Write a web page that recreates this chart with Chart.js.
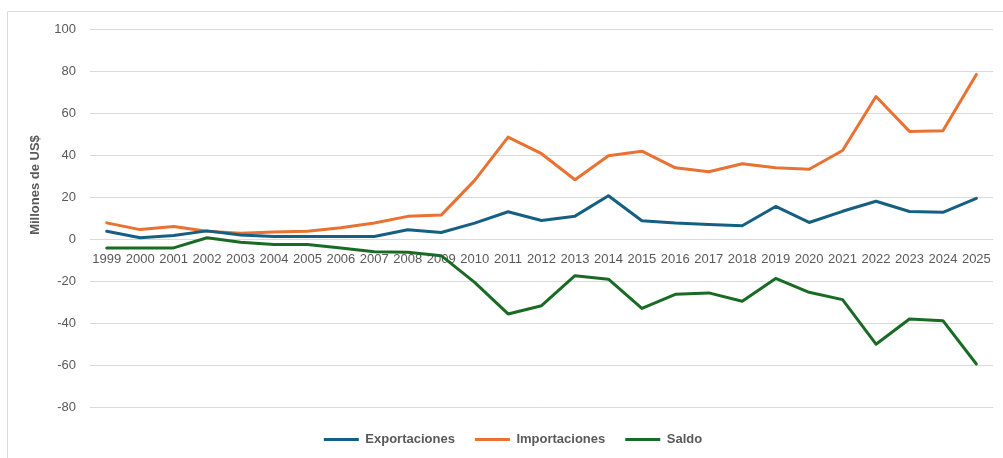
<!DOCTYPE html>
<html>
<head>
<meta charset="utf-8">
<script src="https://cdn.jsdelivr.net/npm/chart.js@4.4.1/dist/chart.umd.min.js"></script>
<style>
  html, body { margin: 0; padding: 0; background: #ffffff; }
  #wrap { position: relative; width: 1003px; height: 458px; }
</style>
</head>
<body>
<div id="wrap"><canvas id="c" width="1003" height="458"></canvas></div>
<script>
const years = ['1999','2000','2001','2002','2003','2004','2005','2006','2007','2008','2009','2010','2011','2012','2013','2014','2015','2016','2017','2018','2019','2020','2021','2022','2023','2024','2025'];
const exportaciones = [3.8,0.7,1.8,4.0,2.0,1.3,1.3,1.3,1.3,4.5,3.2,7.7,13.1,8.9,11.0,20.7,8.8,7.7,7.0,6.4,15.6,8.0,13.3,18.1,13.2,12.8,19.5];
const importaciones = [7.8,4.6,6.1,3.8,2.9,3.5,3.8,5.5,7.7,10.9,11.5,28.0,48.6,40.7,28.3,39.7,41.9,34.0,32.1,35.9,34.0,33.3,42.2,67.9,51.3,51.6,78.4];
const saldo = [-4.1,-4.1,-4.1,0.7,-1.4,-2.5,-2.5,-4.1,-5.9,-6.2,-7.8,-20.5,-35.5,-31.6,-17.3,-19.0,-32.9,-26.2,-25.5,-29.5,-18.6,-25.2,-28.7,-49.9,-37.9,-38.7,-59.3];
const yMin = -80, yMax = 100, yStep = 20;
const axisTitle = 'Millones de US$';

const textColor = '#595959';
const gridColor = '#d9d9d9';

const frame = {
  id: 'frame',
  afterLayout(chart) {
    if (chart.legend) { chart.legend.left += 15; chart.legend.right += 15; }
  },
  beforeDraw(chart) {
    const ctx = chart.ctx;
    ctx.save();
    ctx.strokeStyle = gridColor;
    ctx.lineWidth = 1;
    ctx.beginPath();
    ctx.moveTo(7.5, 470);
    ctx.lineTo(7.5, 11.5);
    ctx.lineTo(1010, 11.5);
    ctx.stroke();
    ctx.restore();
  },
  afterDraw(chart) {
    const ctx = chart.ctx;
    ctx.save();
    ctx.fillStyle = textColor;
    ctx.font = 'bold 13px "Liberation Sans", Arial, sans-serif';
    ctx.textAlign = 'center';
    ctx.textBaseline = 'middle';
    ctx.translate(35.5, 185);
    ctx.rotate(-Math.PI / 2);
    ctx.fillText(axisTitle, 0, 0);
    ctx.restore();
  }
};

const lineDs = (label, data, color) => ({
  label, data,
  borderColor: color, backgroundColor: color,
  borderWidth: 3, pointRadius: 0, pointHoverRadius: 0,
  tension: 0, borderCapStyle: 'round', borderJoinStyle: 'round'
});

new Chart(document.getElementById('c'), {
  type: 'line',
  data: {
    labels: years,
    datasets: [
      lineDs('Exportaciones', exportaciones, '#156082'),
      lineDs('Importaciones', importaciones, '#E97132'),
      lineDs('Saldo', saldo, '#196B24')
    ]
  },
  options: {
    responsive: false,
    animation: false,
    events: [],
    layout: { padding: { left: 0, right: 7, top: 29, bottom: 2 } },
    scales: {
      x: {
        type: 'category',
        position: { y: 0 },
        offset: true,
        grid: { display: false, drawTicks: false },
        border: { display: false },
        ticks: {
          color: textColor, padding: 12, maxRotation: 0, autoSkip: false,
          font: { family: '"Liberation Sans", Arial, sans-serif', size: 13 }
        }
      },
      xgap: {
        type: 'linear', axis: 'x', position: 'bottom', min: 0, max: 1,
        grid: { display: false, drawTicks: false },
        border: { display: false },
        ticks: { display: false },
        afterFit(s) { s.height = 5.5; }
      },
      y: {
        min: yMin, max: yMax,
        grid: { color: gridColor, lineWidth: 1, drawTicks: false },
        border: { display: false },
        ticks: {
          stepSize: yStep, color: textColor, padding: 14,
          font: { family: '"Liberation Sans", Arial, sans-serif', size: 13 }
        },
        afterFit(s) { s.width = 90; }
      }
    },
    plugins: {
      tooltip: { enabled: false },
      legend: {
        position: 'bottom',
        labels: {
          color: textColor,
          boxWidth: 35, boxHeight: 3, padding: 20,
          font: { family: '"Liberation Sans", Arial, sans-serif', size: 13, weight: 'bold' },
          generateLabels(chart) {
            const items = Chart.defaults.plugins.legend.labels.generateLabels(chart);
            items.forEach(it => { it.lineWidth = 0; });
            return items;
          }
        }
      }
    }
  },
  plugins: [frame]
});
</script>
</body>
</html>
